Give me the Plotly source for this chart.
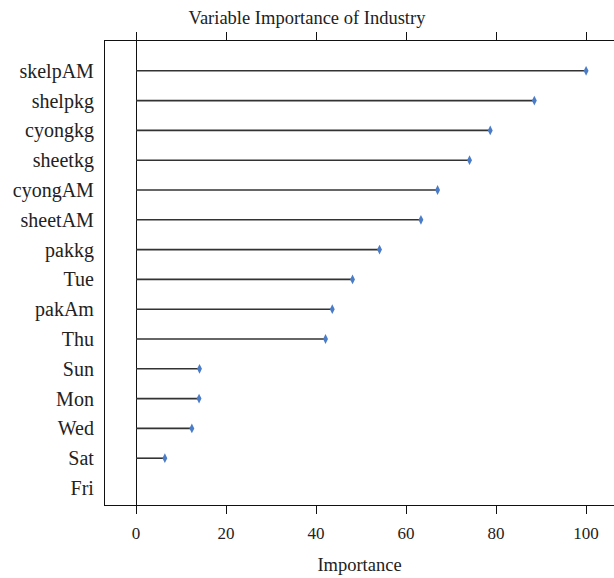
import plotly.graph_objects as go

# Variable importance scores (scaled so the top variable = 100)
variables = ["skelpAM", "shelpkg", "cyongkg", "sheetkg", "cyongAM", "sheetAM",
             "pakkg", "Tue", "pakAm", "Thu", "Sun", "Mon", "Wed", "Sat", "Fri"]
importance = [100, 88.5, 78.7, 74.1, 67.0, 63.3, 54.1, 48.1, 43.6, 42.1,
              14.1, 14.0, 12.4, 6.4, 0.0]

x_ticks = [0, 20, 40, 60, 80, 100]

FONT = "Liberation Serif, Times New Roman, serif"

# stems: one segment per variable, broken with None
seg_x, seg_y = [], []
for v, imp in zip(variables, importance):
    seg_x += [0, imp, None]
    seg_y += [v, v, None]

# end markers only where the stem has length
mk_x = [imp for imp in importance if imp > 0]
mk_y = [v for v, imp in zip(variables, importance) if imp > 0]

fig = go.Figure()
fig.add_trace(go.Scatter(
    x=seg_x, y=seg_y, mode="lines",
    line=dict(color="#333333", width=1.6),
    hoverinfo="skip", showlegend=False,
))
fig.add_trace(go.Scatter(
    x=mk_x, y=mk_y, mode="markers",
    marker=dict(symbol="diamond-tall", size=7, color="#4a7cc8",
                line=dict(width=0)),
    showlegend=False,
))

fig.update_layout(
    width=614, height=578,
    margin=dict(l=105, r=0, t=41, b=73),
    paper_bgcolor="white", plot_bgcolor="white",
    font=dict(family=FONT, color="#222222", size=16),
    title=dict(text="Variable Importance of Industry", x=0.5, xanchor="center",
               y=1 - 18 / 578, yanchor="middle",
               font=dict(family=FONT, size=18.5, color="#222222")),
    xaxis=dict(
        range=[-6.9, 106.2], tickvals=x_ticks,
        ticks="outside", ticklen=8, tickwidth=1.2, tickcolor="#111111",
        showline=True, linecolor="#111111", linewidth=1.2, mirror="ticks",
        showgrid=False, zeroline=True, zerolinecolor="#111111", zerolinewidth=1.4,
        tickfont=dict(size=17), ticklabelstandoff=4,
        title=dict(text="Importance", font=dict(size=18.5), standoff=16),
    ),
    yaxis=dict(
        type="category", categoryorder="array", categoryarray=variables[::-1],
        range=[-0.57, 15.0],
        showline=True, linecolor="#111111", linewidth=1.2, mirror=False,
        ticks="", showgrid=False, zeroline=False,
        tickfont=dict(size=20), ticklabelstandoff=6,
    ),
)

fig.write_html("out.html")
